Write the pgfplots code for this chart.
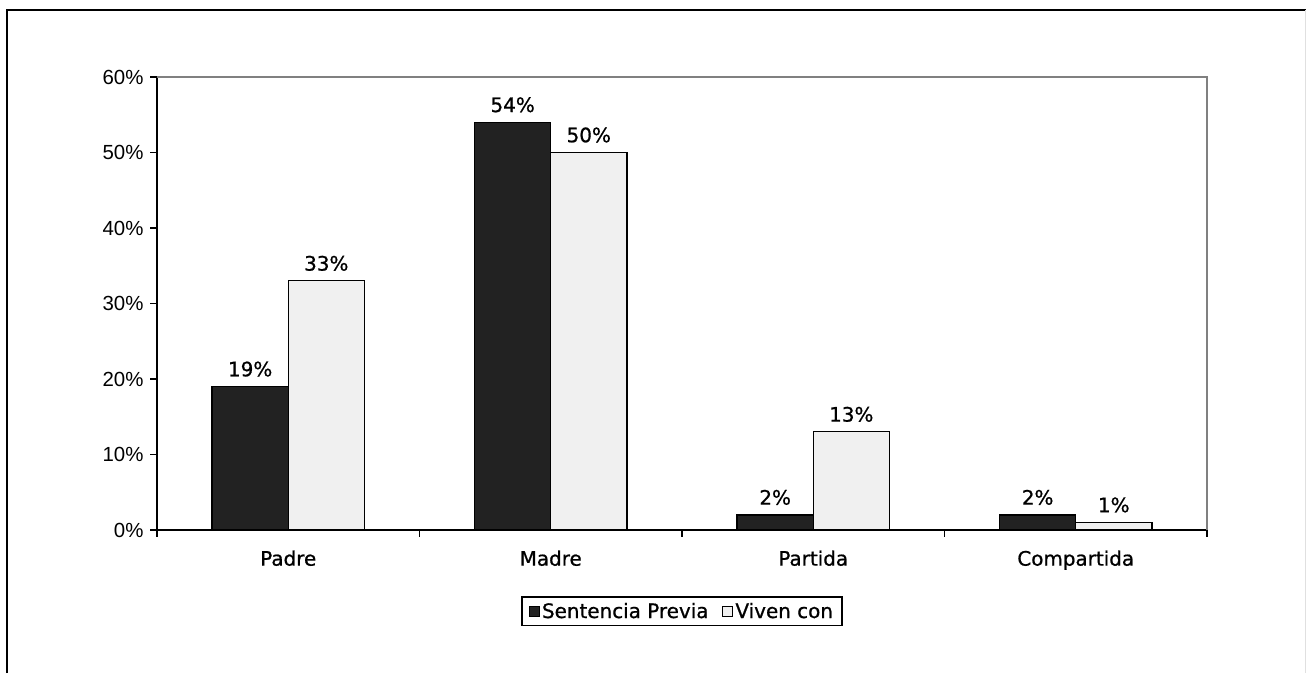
\documentclass[border=0pt]{standalone}
\usepackage{fontspec}
\setmainfont{DejaVu Sans}[FakeBold=0.8]
\newfontfamily\arialf{Liberation Sans}
\usepackage{pgfplots}
\pgfplotsset{compat=1.18}
\definecolor{darkbar}{HTML}{222222}
\definecolor{lightbar}{HTML}{F0F0F0}
\definecolor{framegray}{HTML}{808080}
\begin{document}
\begin{tikzpicture}[x=1bp,y=1bp]
\useasboundingbox (0,0) rectangle (1306,673);
% outer frame
\draw[line width=1.5bp] (7,0) -- (7,663) -- (1306,663);
\draw[black!12, line width=1bp] (1305,663) -- (1305,0);

\begin{axis}[
  at={(157bp,143bp)}, anchor=south west,
  scale only axis, width=1050bp, height=453bp,
  xmin=0, xmax=4, ymin=0, ymax=60,
  axis x line*=bottom, axis y line*=left,
  axis line style={black, line width=1.3bp},
  tick style={black, line width=1.3bp},
  tick align=outside, major tick length=7bp,
  xtick={0,1,2,3,4}, xticklabels={},
  extra x ticks={0.5,1.5,2.5,3.5},
  extra x tick labels={Padre,Madre,Partida,Compartida},
  extra x tick style={major tick length=0pt, tick label style={yshift=-17bp}},
  x tick label style={font=\fontsize{20}{22}\selectfont},
  ytick={0,10,...,60},
  yticklabel={\pgfmathprintnumber{\tick}\%},
  y tick label style={font=\arialf\fontsize{20.5}{23}\selectfont, xshift=-3bp},
  /pgf/number format/assume math mode=true,
  ybar, bar width=0.29,
  nodes near coords={\pgfmathprintnumber{\pgfplotspointmeta}\%},
  every node near coord/.append style={font=\fontsize{20}{22}\selectfont, black, yshift=6bp},
  legend style={at={(0.5,-0.146)}, anchor=north, draw=black, line width=1.5bp,
    font=\fontsize{20}{22}\selectfont, inner xsep=7bp, inner ysep=4bp,
    /tikz/every even column/.append style={column sep=12bp}},
  legend columns=2,
  legend image code/.code={\draw[#1, line width=1bp] (0bp,-5bp) rectangle (10bp,5bp);},
  clip=false,
]
\addplot[fill=darkbar, draw=black, line width=1.3bp, bar shift=-0.145]
  coordinates {(0.5,19) (1.5,54) (2.5,2) (3.5,2)};
\addlegendentry{Sentencia Previa}
\addplot[fill=lightbar, draw=black, line width=1.3bp, bar shift=0.145]
  coordinates {(0.5,33) (1.5,50) (2.5,13) (3.5,1)};
\addlegendentry{Viven con}
\draw[framegray, line width=1.3bp] (rel axis cs:0,1) -- (rel axis cs:1,1) -- (rel axis cs:1,0);
\end{axis}
\end{tikzpicture}
\end{document}
